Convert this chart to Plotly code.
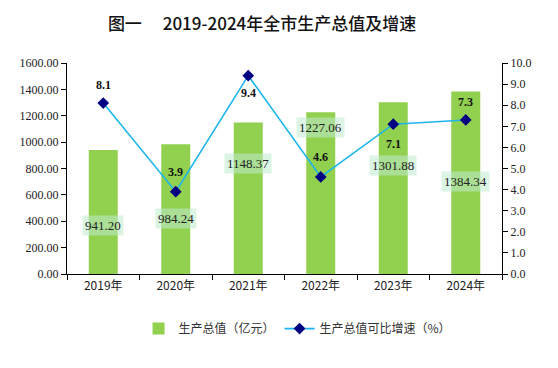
import plotly.graph_objects as go

categories = ["2019年", "2020年", "2021年", "2022年", "2023年", "2024年"]
gdp = [941.20, 984.24, 1148.37, 1227.06, 1301.88, 1384.34]
growth = [8.1, 3.9, 9.4, 4.6, 7.1, 7.3]

# label placement (styling only)
gdp_label_y = [366, 419, 838, 1112, 823, 701]
growth_label_shift = [18, 20, -17, 20, -20, 18]

serif = "Liberation Serif, Times New Roman, serif"
cjk = "Noto Sans CJK SC, sans-serif"

fig = go.Figure()
fig.add_trace(go.Bar(
    x=categories, y=gdp, name="生产总值（亿元）",
    marker=dict(color="#92D050", line=dict(width=0)), width=0.4,
))
fig.add_trace(go.Scatter(
    x=categories, y=growth, name="生产总值可比增速（%）", yaxis="y2",
    mode="lines+markers",
    line=dict(color="#1CB5EC", width=1.6),
    marker=dict(symbol="diamond", size=9, color="#000080"),
))

ann = []
for c, v, ly in zip(categories, gdp, gdp_label_y):
    ann.append(dict(x=c, y=ly, xref="x", yref="y", text=f"{v:.2f}", showarrow=False,
                    font=dict(family=serif, size=13, color="#222"),
                    bgcolor="rgba(190,235,205,0.55)", borderpad=2))
for c, v, s in zip(categories, growth, growth_label_shift):
    ann.append(dict(x=c, y=v, xref="x", yref="y2", text=f"<b>{v:.1f}</b>", showarrow=False,
                    yshift=s, font=dict(family=serif, size=12, color="#111")))

fig.update_layout(
    width=550, height=360,
    margin=dict(l=59, r=56, t=55, b=94, autoexpand=False),
    paper_bgcolor="white", plot_bgcolor="white",
    title=dict(text="图一　 2019-2024年全市生产总值及增速", x=0.462, xanchor="center",
               y=0.955, yanchor="middle",
               font=dict(family=cjk, size=17, color="#111", weight=500)),
    bargap=0.6,
    xaxis=dict(showline=True, linecolor="#000", linewidth=1.2, ticks="outside",
               tickson="boundaries", ticklen=5, tickcolor="#000", automargin=False,
               tickfont=dict(family=cjk, size=12, color="#222")),
    yaxis=dict(range=[0, 1600], dtick=200, tickformat=".2f", showgrid=False,
               showline=True, linecolor="#000", linewidth=1.2, ticks="outside",
               ticklen=5, tickcolor="#000", zeroline=False, automargin=False,
               tickfont=dict(family=serif, size=12, color="#222")),
    yaxis2=dict(range=[0, 10], dtick=1, tickformat=".1f", overlaying="y", side="right",
                showgrid=False, showline=True, linecolor="#000", linewidth=1.2,
                ticks="outside", ticklen=5, tickcolor="#000", zeroline=False,
                automargin=False,
                tickfont=dict(family=serif, size=12, color="#222")),
    legend=dict(orientation="h", x=0.53, xanchor="center", y=-0.19, yanchor="top",
                font=dict(family=cjk, size=12, color="#333"), itemwidth=30),
    annotations=ann,
    showlegend=True,
)

fig.write_html("out.html")
